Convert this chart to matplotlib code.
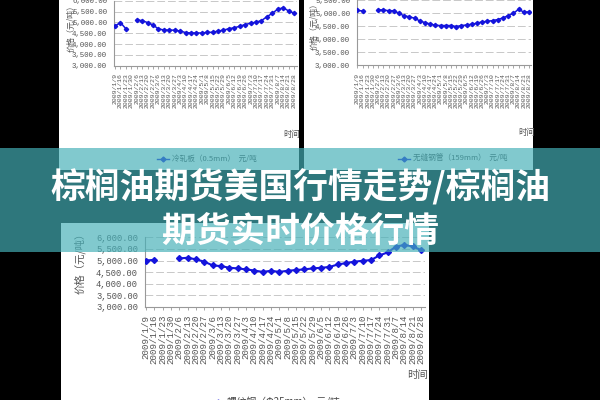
import matplotlib
matplotlib.use("Agg")
import matplotlib.pyplot as plt
from matplotlib.patches import Rectangle
from matplotlib.lines import Line2D
import numpy as np

CJK = ["Noto Sans CJK SC", "DejaVu Sans"]
MONO = "Liberation Mono"

dates = ["2009/1/9", "2009/1/16", "2009/1/23", "2009/1/30", "2009/2/6", "2009/2/13",
         "2009/2/20", "2009/2/27", "2009/3/6", "2009/3/13", "2009/3/20", "2009/3/27",
         "2009/4/3", "2009/4/10", "2009/4/17", "2009/4/24", "2009/5/1", "2009/5/8",
         "2009/5/15", "2009/5/22", "2009/5/29", "2009/6/5", "2009/6/12", "2009/6/19",
         "2009/6/26", "2009/7/3", "2009/7/10", "2009/7/17", "2009/7/24", "2009/7/31",
         "2009/8/7", "2009/8/14", "2009/8/21", "2009/8/28"]
nan = np.nan
# top left: cold rolled sheet
cold_rolled = [4830, 4990, 4710, nan, 5110, 5080, 4990, 4880, 4700, 4650,
               4640, 4640, 4600, 4530, 4510, 4510, 4510, 4540, 4540, 4600,
               4640, 4710, 4750, 4820, 4900, 4960, 5010, 5080, 5260, 5420,
               5610, 5670, 5530, 5420]
# top right: seamless pipe
seamless_pipe = [5110, 5090, nan, nan, 5130, 5130, 5100, 5100, 5000, 4900,
                 4870, 4810, 4710, 4640, 4590, 4540, 4530, 4530, 4530, 4490,
                 4530, 4550, 4580, 4620, 4670, 4690, 4720, 4760, 4820, 4910,
                 5000, 5150, 5050, 5050]
# bottom: rebar
rebar = [5000, 5030, nan, nan, 5090, 5120, 5050, 4950, 4790, 4760,
         4690, 4660, 4620, 4570, 4510, 4560, 4510, 4560, 4590, 4620,
         4660, 4690, 4720, 4830, 4890, 4950, 4990, 5020, 5220, 5350,
         5600, 5670, 5610, 5450]
yticks = [3000, 3500, 4000, 4500, 5000, 5500, 6000]

title_lines = ["棕榈油期货美国行情走势/棕榈油", "期货实时价格行情"]

W, H = 600, 400
fig = plt.figure(figsize=(6, 4), dpi=100, facecolor="black")


def fx(x):
    return x / W


def fy(y):
    return 1 - y / H


def panel(x0, y0, x1, y1):
    fig.add_artist(Rectangle((fx(x0), fy(y1)), fx(x1 - x0), (y1 - y0) / H,
                             transform=fig.transFigure, facecolor="white",
                             edgecolor="none", zorder=-1))


def chart(x0, y_top, x1, y_bot, values, xlim, tick_fs, date_fs, lw, ms):
    ax = fig.add_axes([fx(x0), fy(y_bot), fx(x1 - x0), (y_bot - y_top) / H])
    x = np.arange(len(dates))
    ax.plot(x, values, color="#1414dc", lw=lw, marker="D", ms=ms, zorder=3)
    ax.set_ylim(3000, 6000)
    ax.set_xlim(*xlim)
    ax.set_yticks(yticks)
    ax.set_yticklabels([f"{v:,.2f}" for v in yticks], fontsize=tick_fs,
                       family=MONO, color="#555555")
    ax.set_xticks(x)
    ax.set_xticklabels(dates, rotation=90, fontsize=date_fs, family=MONO,
                       color="#555555")
    for v in yticks[1:]:
        ax.axhline(v, color="#c8c8c8", lw=0.7, ls=(0, (8, 3)), zorder=1)
    for s in ["top", "right"]:
        ax.spines[s].set_visible(False)
    for s in ["left", "bottom"]:
        ax.spines[s].set_color("#999999")
        ax.spines[s].set_linewidth(0.8)
    ax.tick_params(axis="x", length=2.5, width=0.6, color="#999999", pad=3)
    ax.tick_params(axis="y", length=0, pad=5)
    return ax


def legend(x0, y, label, fs):
    fig.add_artist(Line2D([fx(x0), fx(x0 + 6), fx(x0 + 12)], [fy(y)] * 3,
                          transform=fig.transFigure, color="#1414dc", lw=1,
                          marker="D", ms=2.5, markevery=[1], zorder=2))
    fig.text(fx(x0 + 15), fy(y), label, fontsize=fs, family=CJK,
             color="#444444", va="center", ha="left", zorder=2)


# top left panel
panel(59, 0, 299, 170)
chart(114, 0.7, 297, 65.7, cold_rolled, (-0.18, 33.55), 5.3, 4.6, 1.1, 2.2)
fig.text(fx(71), fy(26), "价格（元/吨）", rotation=90, fontsize=5.8, family=CJK,
         color="#555555", ha="center", va="center")
fig.text(fx(292), fy(134), "时间", fontsize=6, family=CJK, color="#555555",
         ha="center", va="center")
legend(157, 159, "冷轧板（0.5mm）  元/吨", 5.5)

# top right panel
panel(304, 0, 533, 170)
chart(357, -12.7, 531, 65.3, seamless_pipe, (-0.06, 33.4), 5.3, 4.6, 1.1, 2.2)
fig.text(fx(314), fy(24), "价格（元/吨）", rotation=90, fontsize=5.8, family=CJK,
         color="#555555", ha="center", va="center")
fig.text(fx(527), fy(133), "时间", fontsize=6, family=CJK, color="#555555",
         ha="center", va="center")
legend(398, 159, "无缝钢管（159mm）  元/吨", 5.5)

# bottom panel
panel(61, 223, 429, 400)
chart(145, 237.3, 425, 307, rebar, (-0.12, 33.48), 6.3, 6.6, 1.5, 3)
fig.text(fx(80), fy(261), "价格（元/吨）", rotation=90, fontsize=7.5, family=CJK,
         color="#555555", ha="center", va="center")
fig.text(fx(418), fy(375), "时间", fontsize=7.5, family=CJK, color="#555555",
         ha="center", va="center")
legend(212, 402, "螺纹钢（Φ25mm）  元/吨", 7)

# teal banner with title
fig.add_artist(Rectangle((0, fy(252)), 1, 104 / H, transform=fig.transFigure,
                         facecolor=(0.27, 0.69, 0.72), alpha=0.68,
                         edgecolor="none", zorder=5))
fig.text(0.5, fy(186), title_lines[0], fontsize=25, fontweight="bold", family=CJK,
         color="white", ha="center", va="center", zorder=10)
fig.text(0.5, fy(231), title_lines[1], fontsize=25, fontweight="bold", family=CJK,
         color="white", ha="center", va="center", zorder=10)

fig.savefig("out.png", dpi=100, facecolor="black")
